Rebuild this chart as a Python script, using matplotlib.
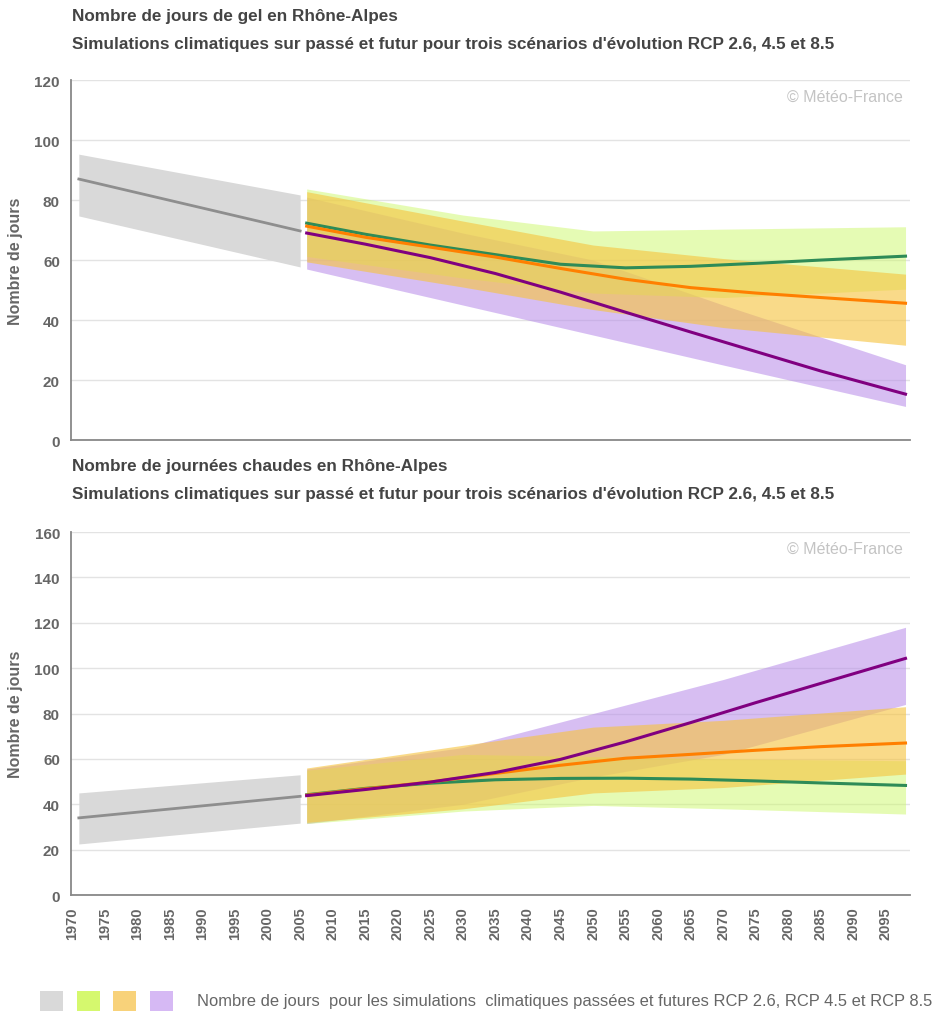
import matplotlib
matplotlib.use("Agg")
import matplotlib.pyplot as plt
from matplotlib.patches import Rectangle

plt.rcParams['font.family'] = ['Liberation Sans', 'DejaVu Sans']

# ---- data ----
past_years = [1971, 2005]
fut_band_years = [2006, 2030, 2050, 2070, 2098]
fut_line_years = [2006, 2015, 2025, 2035, 2045, 2055, 2065, 2075, 2085, 2098]

# frost days (jours de gel)
gel_past = [87, 69.7]
gel_past_hi = [95.3, 81.7]
gel_past_lo = [74.7, 57.7]
gel_26 = [72.3, 68.6, 65.0, 61.8, 58.6, 57.4, 57.9, 58.9, 60.0, 61.3]
gel_45 = [71.3, 67.6, 64.3, 61.0, 57.2, 53.6, 50.8, 49.0, 47.5, 45.6]
gel_85 = [69.0, 65.3, 60.8, 55.5, 49.3, 42.6, 36.0, 29.5, 23.0, 15.3]
gel_26_hi = [83.7, 75.0, 69.7, 70.3, 71.1]
gel_26_lo = [61.2, 54.0, 49.0, 47.5, 50.3]
gel_45_hi = [82.8, 73.0, 65.0, 60.5, 55.3]
gel_45_lo = [59.4, 51.0, 43.5, 37.5, 31.6]
gel_85_hi = [81.0, 69.0, 60.0, 45.0, 25.1]
gel_85_lo = [57.0, 45.0, 35.0, 25.0, 11.2]

# hot days (journées chaudes)
chaud_past = [34.0, 43.5]
chaud_past_hi = [45.0, 53.0]
chaud_past_lo = [22.5, 31.7]
chaud_26 = [44.2, 47.0, 49.3, 50.8, 51.4, 51.5, 51.1, 50.3, 49.4, 48.3]
chaud_45 = [44.0, 46.8, 49.8, 53.6, 57.2, 60.3, 62.0, 63.8, 65.4, 67.0]
chaud_85 = [43.8, 46.5, 49.8, 54.0, 59.8, 67.5, 76.0, 84.8, 93.3, 104.3]
chaud_26_hi = [55.0, 62.0, 61.0, 60.0, 59.2]
chaud_26_lo = [31.5, 37.0, 39.5, 38.0, 35.7]
chaud_45_hi = [56.0, 66.0, 74.0, 77.0, 83.0]
chaud_45_lo = [32.0, 38.0, 45.0, 47.4, 53.3]
chaud_85_hi = [55.5, 65.0, 80.0, 95.0, 118.0]
chaud_85_lo = [31.5, 40.0, 52.0, 62.0, 84.0]

x_ticks = list(range(1970, 2096, 5))

titles = ["Nombre de jours de gel en Rhône-Alpes",
          "Nombre de journées chaudes en Rhône-Alpes"]
subtitle = "Simulations climatiques sur passé et futur pour trois scénarios d'évolution RCP 2.6, 4.5 et 8.5"
legend_text = "Nombre de jours  pour les simulations  climatiques passées et futures RCP 2.6, RCP 4.5 et RCP 8.5"

c_gray_band, c_gray_line = "#d9d9d9", "#8e8e8e"
c_lime, c_orange_band, c_purple_band = "#cdf86a", "#f6c441", "#b68ae9"
c_green, c_orange, c_purple = "#2e8b57", "#ff7f00", "#800080"
txt = "#666666"

fig = plt.figure(figsize=(9.47, 10.12), dpi=100)
ax1 = fig.add_axes([0.075, 0.5642, 0.886, 0.3557])
ax2 = fig.add_axes([0.075, 0.1146, 0.886, 0.3587])


def draw(ax, past, past_hi, past_lo, l26, l45, l85, b26, b45, b85, ymax):
    ax.fill_between(past_years, past_lo, past_hi, color=c_gray_band, lw=0, zorder=2)
    ax.plot(past_years, past, color=c_gray_line, lw=2, zorder=5)
    # purple first, then lime, orange on top
    ax.fill_between(fut_band_years, b85[1], b85[0], color=c_purple_band, alpha=0.55, lw=0, zorder=2)
    ax.fill_between(fut_band_years, b26[1], b26[0], color=c_lime, alpha=0.5, lw=0, zorder=3)
    ax.fill_between(fut_band_years, b45[1], b45[0], color=c_orange_band, alpha=0.62, lw=0, zorder=4)
    ax.plot(fut_line_years, l26, color=c_green, lw=2.2, zorder=6)
    ax.plot(fut_line_years, l45, color=c_orange, lw=2.2, zorder=6)
    ax.plot(fut_line_years, l85, color=c_purple, lw=2.2, zorder=6)

    ax.set_xlim(1969.8, 2098.7)
    ax.set_ylim(0, ymax)
    ax.set_yticks(range(0, ymax + 1, 20))
    ax.grid(axis='y', color='#e3e3e3', lw=1, zorder=0)
    ax.set_axisbelow(True)
    for s in ['top', 'right']:
        ax.spines[s].set_visible(False)
    for s in ['left', 'bottom']:
        ax.spines[s].set_color('#888888')
        ax.spines[s].set_linewidth(1.3)
    ax.tick_params(axis='y', length=0, pad=8, labelsize=11, labelcolor=txt)
    for lab in ax.get_yticklabels():
        lab.set_fontweight('bold')
    ax.set_ylabel("Nombre de jours", fontsize=11.5, fontweight='bold', color=txt, labelpad=8)
    ax.text(0.992, 0.975, "© Météo-France", transform=ax.transAxes, ha='right', va='top',
            fontsize=11.5, color='#c4c4c4')


draw(ax1, gel_past, gel_past_hi, gel_past_lo, gel_26, gel_45, gel_85,
     (gel_26_hi, gel_26_lo), (gel_45_hi, gel_45_lo), (gel_85_hi, gel_85_lo), 120)
draw(ax2, chaud_past, chaud_past_hi, chaud_past_lo, chaud_26, chaud_45, chaud_85,
     (chaud_26_hi, chaud_26_lo), (chaud_45_hi, chaud_45_lo), (chaud_85_hi, chaud_85_lo), 160)

ax1.set_xticks([])
ax2.set_xticks(x_ticks)
ax2.set_xticklabels([str(y) for y in x_ticks], rotation=90, fontsize=10.5,
                    fontweight='bold', color=txt)
ax2.tick_params(axis='x', length=0, pad=8)

# titles
title_kw = dict(fontsize=12.3, fontweight='bold', color='#444444', va='center', ha='left')
fig.text(72 / 947, 1 - 17 / 1012, titles[0], **title_kw)
fig.text(72 / 947, 1 - 45 / 1012, subtitle, **title_kw)
fig.text(72 / 947, 1 - 467 / 1012, titles[1], **title_kw)
fig.text(72 / 947, 1 - 495 / 1012, subtitle, **title_kw)

# legend swatches
for i, c in enumerate([c_gray_band, "#d5f86e", "#f8d27a", "#d6b9f4"]):
    fig.patches.append(Rectangle(((40 + i * 36.7) / 947, 0.0),
                                 23 / 947, 20 / 1012, transform=fig.transFigure,
                                 color=c, lw=0))
fig.text(197 / 947, 1 - 1002 / 1012, legend_text, fontsize=11.9, color=txt, va='center', ha='left')

fig.savefig("out.png", dpi=100)
